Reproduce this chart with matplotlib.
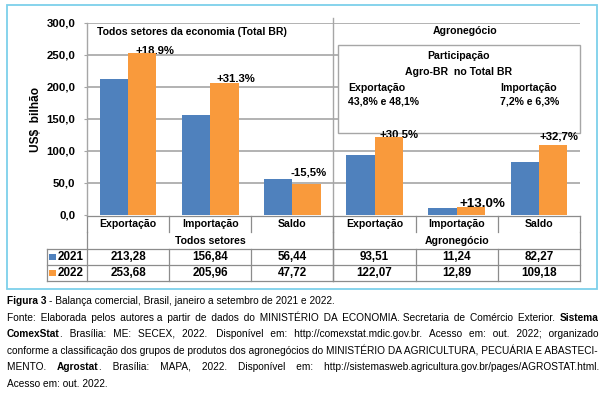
import matplotlib
matplotlib.use('Agg')
import matplotlib.pyplot as plt
import matplotlib.transforms as mtransforms
from matplotlib.patches import Rectangle

# Dados (US$ bilhão, janeiro a setembro)
categories = ['Exportação', 'Importação', 'Saldo', 'Exportação', 'Importação', 'Saldo']
groups = ['Todos setores', 'Agronegócio']
years = ['2021', '2022']
values_2021 = [213.28, 156.84, 56.44, 93.51, 11.24, 82.27]
values_2022 = [253.68, 205.96, 47.72, 122.07, 12.89, 109.18]
change_labels = ['+18.9%', '+31.3%', '-15,5%', '+30.5%', '+13,0%', '+32,7%']
y_ticks = [0, 50, 100, 150, 200, 250, 300]

caption = [
    ('*Figura 3* - Balança comercial, Brasil, janeiro a setembro de 2021 e 2022.', False),
    ('Fonte: Elaborada pelos autores a partir de dados do MINISTÉRIO DA ECONOMIA. Secretaria de Comércio Exterior. *Sistema*', True),
    ('*ComexStat*. Brasília: ME: SECEX, 2022. Disponível em: http://comexstat.mdic.gov.br. Acesso em: out. 2022; organizado', True),
    ('conforme a classificação dos grupos de produtos dos agronegócios do MINISTÉRIO DA AGRICULTURA, PECUÁRIA E ABASTECI-', True),
    ('MENTO. *Agrostat*. Brasília: MAPA, 2022. Disponível em: http://sistemasweb.agricultura.gov.br/pages/AGROSTAT.html.', True),
    ('Acesso em: out. 2022.', False),
]

blue = '#4F81BD'
orange = '#F99A3C'
grid_c = '#A6A6A6'
line_c = '#8C8C8C'
plt.rcParams['font.family'] = ['Liberation Sans', 'DejaVu Sans']
fs = 7.6
bold = dict(fontsize=fs, fontweight='bold')

W, H = 606, 395
fig = plt.figure(figsize=(W / 100, H / 100), dpi=100)

# camada em pixels para moldura, tabela e legenda
ov = fig.add_axes([0, 0, 1, 1])
ov.set_xlim(0, W)
ov.set_ylim(H, 0)
ov.axis('off')

# eixo principal
left, right, top, bottom = 87, 580, 23, 215
ax = fig.add_axes([left / W, 1 - bottom / H, (right - left) / W, (bottom - top) / H])
ax.patch.set_visible(False)
x = list(range(len(categories)))
bw = 0.345
ax.bar([i - bw / 2 for i in x], values_2021, bw, color=blue, zorder=3)
ax.bar([i + bw / 2 for i in x], values_2022, bw, color=orange, zorder=3)
ax.set_xlim(-0.5, len(categories) - 0.5)
ax.set_ylim(0, 300)
ax.set_yticks(y_ticks)
ax.set_yticklabels([f'{v:.1f}'.replace('.', ',') for v in y_ticks], fontsize=fs + 0.6, fontweight='bold')
ax.tick_params(axis='y', length=2.5, color=grid_c, pad=6)
ax.set_xticks([])
for v in y_ticks[1:]:
    ax.axhline(v, color=grid_c, lw=1.2, zorder=1)
for s in ['top', 'right', 'bottom']:
    ax.spines[s].set_visible(False)
ax.spines['left'].set_color(grid_c)
ax.spines['left'].set_linewidth(1.0)
ax.set_ylabel('US$  bilhão', fontsize=fs + 1, fontweight='bold', labelpad=3)

# rótulos de variação (atrás das barras)
dx = [0.33, 0.31, 0.20, 0.30, 0.31, 0.24]
dy = [2.5, 6.5, 18, 3, 4.5, 13]
for i, lab in enumerate(change_labels):
    size = fs + 2 if lab == '+13,0%' else fs + 0.6
    ax.text(i + dx[i], values_2022[i] + dy[i], lab, ha='center', va='center',
            fontsize=size, fontweight='bold', zorder=2.5)

# títulos dos grupos e divisória
bt = mtransforms.blended_transform_factory(ax.transData, ov.transData)
ax.text(-0.38, 32, 'Todos setores da economia (Total BR)', transform=bt, ha='left', va='center', **bold)
ax.text(4.1, 31, groups[1], transform=bt, ha='center', va='center', **bold)
ov.plot([2.5, 2.5], [18, 281], transform=bt, color=grid_c, lw=1.0)

# caixa de participação
ax.add_patch(Rectangle((338, 45), right - 338, 88, transform=ov.transData, facecolor='white',
                       edgecolor=grid_c, lw=1.0, zorder=1.5, clip_on=False))
box_texts = [(459, 56, 'Participação', 'center'), (459, 72, 'Agro-BR  no Total BR', 'center'),
             (348, 88, 'Exportação', 'left'), (348, 102, '43,8% e 48,1%', 'left'),
             (500, 88, 'Importação', 'left'), (500, 102, '7,2% e 6,3%', 'left')]
for bx, by, s, ha in box_texts:
    ax.text(bx, by, s, transform=ov.transData, ha=ha, va='center', zorder=4, **bold)

# tabela de dados
n = len(categories)
edges = [i - 0.5 for i in range(n + 1)]
lkw = dict(transform=bt, color=line_c, lw=0.9)
ov.plot([-0.5, n - 0.5], [215.5, 215.5], **lkw)
for e in edges:
    ov.plot([e, e], [215.5, 232], **lkw)
for e in [-0.5, 2.5, n - 0.5]:
    ov.plot([e, e], [232, 249], **lkw)
for e in edges:
    ov.plot([e, e], [249, 281], **lkw)
for yy in [249, 265, 281]:
    ov.plot([47, right], [yy, yy], color=line_c, lw=0.9)
ov.plot([47, 47], [249, 281], color=line_c, lw=0.9)
for i, c in enumerate(categories):
    ov.text(i, 224, c, transform=bt, ha='center', va='center', **bold)
ov.text(1, 241, groups[0], transform=bt, ha='center', va='center', **bold)
ov.text(4, 241, groups[1], transform=bt, ha='center', va='center', **bold)
for r, (yr, vals, col) in enumerate([(years[0], values_2021, blue), (years[1], values_2022, orange)]):
    yc = 257 + 16 * r
    ov.add_patch(Rectangle((49, yc - 3.5), 6.5, 6.5, facecolor=col, edgecolor='none'))
    ov.text(58, yc, yr, ha='left', va='center', fontsize=fs + 0.8, fontweight='bold')
    for i, v in enumerate(vals):
        ov.text(i, yc, f'{v:.2f}'.replace('.', ','), transform=bt, ha='center', va='center',
                fontsize=fs + 0.8, fontweight='bold')

# moldura azul
ov.add_patch(Rectangle((6.5, 5), 590, 284, facecolor='none', edgecolor='#7DD0EA', lw=1.3))

# legenda justificada: um texto por trecho (normal/negrito), espaços finos completam a linha
renderer = fig.canvas.get_renderer()
cfs = 7.25
x0, x1 = 7, 599
THIN = '\u2009'


def ink(text, b):
    t = ov.text(0, 0, text, fontsize=cfs, fontweight='bold' if b else 'normal')
    w = t.get_window_extent(renderer).width
    t.remove()
    return w


def advance(text, b):
    # largura de avanço: mede entre duas barras para incluir os espaçamentos laterais
    return ink('|' + text + '|', b) - ink('||', b)


def word_segments(line):
    words, is_bold = [], False
    for w in line.split(' '):
        segs = []
        for j, part in enumerate(w.split('*')):
            if j > 0:
                is_bold = not is_bold
            if part:
                segs.append((part, is_bold))
        words.append(segs)
    return words


thin_w = advance(THIN, False)
for k, (line, justify) in enumerate(caption):
    yb = 304 + 16.6 * k
    words = word_segments(line)
    natural = sum(advance(s, b) for w in words for s, b in w) + advance(' ', False) * (len(words) - 1)
    extra = (x1 - x0 - natural) / (len(words) - 1) if justify else 0
    # monta os trechos com os espaços de cada intervalo
    runs = []
    used = 0
    for j, w in enumerate(words):
        for s, b in w:
            if runs and runs[-1][1] == b:
                runs[-1][0] += s
            else:
                runs.append([s, b])
        if j < len(words) - 1:
            want = round(extra * (j + 1) / thin_w) if extra > 0 else 0
            runs[-1][0] += ' ' + THIN * (want - used)
            used = want
    xp = x0
    for s, b in runs:
        ov.text(xp, yb, s, ha='left', va='baseline', fontsize=cfs,
                fontweight='bold' if b else 'normal')
        xp += advance(s, b)

fig.savefig('out.png', dpi=100)
